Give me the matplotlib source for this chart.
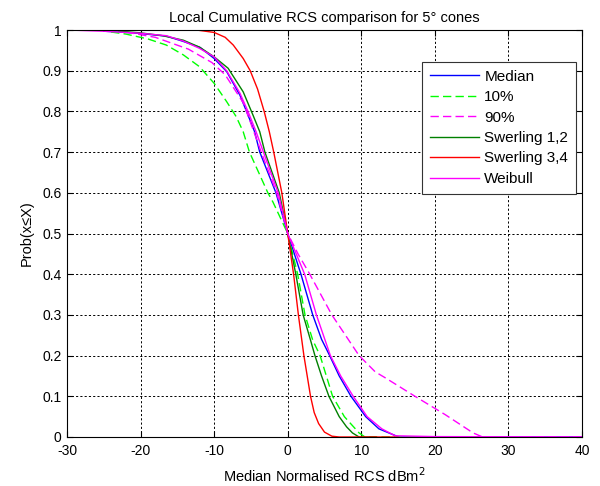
import matplotlib
matplotlib.use("Agg")
import matplotlib.pyplot as plt

plt.rcParams['font.family'] = ['Liberation Sans', 'DejaVu Sans']
plt.rcParams['axes.unicode_minus'] = False

# Median
med_x = [-25, -21, -16.5, -14.2, -11.9, -10, -8.3, -6.5, -5.6, -4.5, -3.8, -1.6, 0,
         1.8, 3.4, 4.6, 5.7, 7.0, 8.6, 10.6, 12.4, 15.1, 40]
med_y = [0.997, 0.993, 0.985, 0.972, 0.957, 0.93, 0.898, 0.84, 0.8, 0.75, 0.7, 0.6, 0.5,
         0.4, 0.3, 0.24, 0.2, 0.15, 0.1, 0.05, 0.02, 0.0, 0.0]
# 10%
p10_x = [-24, -22, -19, -16.5, -14.2, -12, -10, -8.3, -7.0, -6.05, -5.2, -2.7, -2.0, 0,
         1.35, 2.35, 3.4, 4.4, 6.1, 7.7, 9.7, 10.5, 20, 28.5]
p10_y = [0.995, 0.99, 0.978, 0.963, 0.939, 0.91, 0.869, 0.824, 0.787, 0.75, 0.7, 0.6, 0.577, 0.5,
         0.4, 0.3, 0.238, 0.2, 0.1, 0.05, 0.01, 0.0, 0.0, 0.0]
# 90%
p90_x = [-22, -18, -13.5, -10.3, -8.5, -6.0, -4.6, -3.6, -1.5, 0, 1.4, 3.0, 6.0, 9.7, 11.9,
         13.3, 17.3, 21.4, 25.2, 26.5, 40]
p90_y = [0.995, 0.982, 0.953, 0.92, 0.89, 0.82, 0.75, 0.7, 0.6, 0.5, 0.45, 0.4, 0.3, 0.2, 0.16,
         0.145, 0.1, 0.055, 0.01, 0.0, 0.0]
# Swerling 1,2
sw12_x = [-23, -20, -17, -14.2, -12, -10, -8.1, -6.05, -4.7, -3.8, -3.1, -1.15, 0,
          1.1, 2.1, 3.1, 3.7, 4.6, 5.6, 7.0, 8.0, 8.8, 9.7, 12]
sw12_y = [0.997, 0.993, 0.986, 0.975, 0.958, 0.934, 0.906, 0.848, 0.79, 0.75, 0.7, 0.6, 0.5,
          0.4, 0.3, 0.238, 0.2, 0.15, 0.1, 0.05, 0.025, 0.01, 0.0, 0.0]
# Swerling 3,4
sw34_x = [-27, -20, -12.4, -10, -8.5, -7.4, -6.05, -5.1, -4.1, -3.2, -2.5, -1.9, -0.8, 0,
          0.8, 1.45, 2.2, 3.1, 3.6, 4.2, 5.0, 6.0, 7.0, 15]
sw34_y = [1.0, 1.0, 1.0, 0.994, 0.982, 0.963, 0.93, 0.9, 0.855, 0.8, 0.75, 0.7, 0.6, 0.5,
          0.4, 0.3, 0.2, 0.1, 0.06, 0.033, 0.012, 0.002, 0.0, 0.0]
# Weibull
wb_x = [-30, -25, -20, -16.5, -14.2, -12, -10, -8.3, -6.5, -5.4, -4.3, -3.3, -1.3, 0,
        2.3, 3.9, 5.8, 7.2, 8.9, 10.8, 12.8, 14.6, 20, 40]
wb_y = [1.0, 0.997, 0.992, 0.986, 0.973, 0.955, 0.934, 0.9, 0.845, 0.8, 0.75, 0.7, 0.6, 0.5,
        0.4, 0.3, 0.2, 0.15, 0.1, 0.05, 0.02, 0.003, 0.001, 0.0]

xticks = [-30, -20, -10, 0, 10, 20, 30, 40]
yticks = [0, 0.1, 0.2, 0.3, 0.4, 0.5, 0.6, 0.7, 0.8, 0.9, 1]
ytick_labels = ['0', '0.1', '0.2', '0.3', '0.4', '0.5', '0.6', '0.7', '0.8', '0.9', '1']

fig = plt.figure(figsize=(6.0, 4.86), dpi=100)
ax = fig.add_axes([67/600, 1-437/486, 515/600, 407/486])

lw = 1.0
ax.plot(med_x, med_y, color='#0000ff', lw=lw, label='Median')
ax.plot(p10_x, p10_y, color='#00ff00', lw=lw, dashes=(6, 3), label='10%')
ax.plot(p90_x, p90_y, color='#ff00ff', lw=lw, dashes=(6, 3), label='90%')
ax.plot(sw12_x, sw12_y, color='#008000', lw=lw, label='Swerling 1,2')
ax.plot(sw34_x, sw34_y, color='#ff0000', lw=lw, label='Swerling 3,4')
ax.plot(wb_x, wb_y, color='#ff00ff', lw=lw, label='Weibull')

ax.set_xlim(-30, 40)
ax.set_ylim(0, 1)
ax.set_xticks(xticks)
ax.set_yticks(yticks)
ax.set_yticklabels(ytick_labels)
ax.tick_params(direction='in', top=True, right=True, labelsize=10, length=4, width=0.8)
ax.tick_params(axis='x', pad=5)
ax.tick_params(axis='y', pad=4)
ax.grid(True, color='black', linestyle=(0, (2.2, 2.2)), linewidth=0.7)
for s in ax.spines.values():
    s.set_linewidth(0.8)

ax.set_title('Local Cumulative RCS comparison for 5° cones', fontsize=10.5, pad=6)
ax.set_xlabel('Median Normalised RCS dBm$^2$', fontsize=10.5, labelpad=6)
ax.set_ylabel('Prob(x≤X)', fontsize=10.5, labelpad=6)

leg = ax.legend(loc='upper right', bbox_to_anchor=(0.988, 0.921), fontsize=11,
                fancybox=False, framealpha=1, edgecolor='#333333',
                handlelength=3.2, borderpad=0.5, labelspacing=0.42, handletextpad=0.35,
                borderaxespad=0)
leg.get_frame().set_linewidth(0.8)

fig.savefig('out.png', dpi=100)
